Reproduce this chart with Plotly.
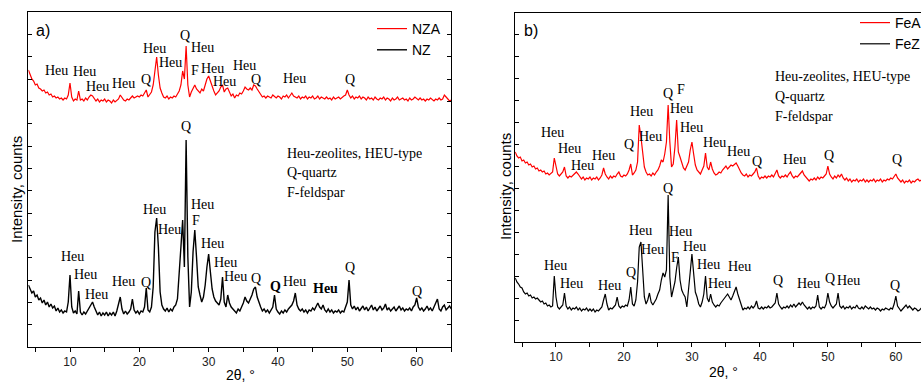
import plotly.graph_objects as go

# ---------------- data (2θ scan from 4° to 65°, step 0.25°) ----------------
TWO_THETA_START = 4.0
TWO_THETA_STEP = 0.25

NZA = [
    277, 272, 268, 266, 262, 263, 259, 258,
    256, 257, 254, 255, 252, 253, 250, 251,
    249, 250, 248, 249, 247, 249, 248, 252,
    264, 250, 246, 248, 247, 256, 247, 248,
    246, 249, 247, 250, 252, 251, 248, 246,
    248, 245, 247, 246, 248, 245, 247, 246,
    244, 247, 245, 247, 248, 252, 249, 247,
    246, 248, 247, 249, 251, 249, 250, 251,
    250, 252, 251, 254, 257, 250, 252, 255,
    262, 278, 290, 272, 259, 254, 250, 249,
    251, 248, 250, 249, 251, 250, 253, 256,
    262, 276, 268, 301, 262, 250, 255, 258,
    262, 258, 256, 254, 258, 256, 262, 268,
    271, 266, 259, 256, 252, 254, 256, 260,
    262, 255, 258, 259, 254, 251, 253, 249,
    252, 251, 254, 253, 256, 260, 258, 257,
    259, 257, 262, 261, 258, 255, 252, 250,
    251, 249, 251, 250, 249, 252, 250, 249,
    251, 250, 248, 251, 250, 252, 249, 252,
    254, 251, 250, 249, 251, 248, 250, 249,
    251, 248, 250, 249, 251, 248, 249, 251,
    248, 250, 249, 248, 250, 248, 249, 247,
    250, 248, 249, 250, 248, 250, 251, 252,
    257, 252, 249, 251, 248, 250, 249, 251,
    248, 250, 249, 247, 250, 248, 249, 247,
    250, 248, 247, 249, 248, 250, 247, 249,
    248, 246, 249, 247, 248, 250, 247, 248,
    249, 247, 248, 246, 249, 247, 248, 250,
    248, 247, 249, 247, 248, 246, 248, 247,
    249, 247, 246, 248, 247, 249, 247, 248,
    252, 250, 248, 246, 247,
]

NZ = [
    62, 58, 54, 56, 50, 52, 47, 49,
    44, 47, 42, 45, 40, 43, 39, 41,
    36, 39, 35, 37, 34, 36, 35, 45,
    72, 40, 34, 36, 33, 56, 35, 32,
    35, 33, 36, 38, 42, 45, 40, 35,
    32, 35, 31, 34, 32, 35, 31, 34,
    32, 35, 31, 36, 42, 50, 38, 33,
    36, 33, 35, 38, 48, 37, 34, 36,
    33, 36, 35, 40, 59, 37, 35, 40,
    60, 115, 129, 100, 55, 42, 38, 36,
    39, 35, 38, 36, 40, 42, 48, 70,
    100, 127, 80, 207, 90, 40, 55, 95,
    117, 90, 60, 52, 45, 50, 62, 80,
    93, 75, 58, 50, 46, 44, 42, 48,
    70, 45, 40, 52, 44, 40, 38, 36,
    34, 38, 36, 40, 44, 50, 46, 44,
    48, 52, 58, 60, 50, 44, 40, 36,
    38, 35, 37, 34, 37, 40, 52, 38,
    35, 33, 36, 34, 37, 35, 38, 40,
    42, 46, 54, 42, 38, 36, 38, 35,
    37, 34, 37, 36, 39, 37, 41, 44,
    40, 38, 42, 37, 35, 38, 35, 37,
    34, 36, 35, 37, 34, 36, 35, 40,
    45, 67, 42, 38, 41, 37, 40, 36,
    39, 41, 37, 40, 36, 39, 42, 37,
    40, 36, 38, 41, 37, 39, 43, 37,
    39, 36, 38, 40, 36, 38, 41, 37,
    39, 36, 38, 37, 39, 36, 40, 42,
    49, 40, 37, 39, 36, 38, 41, 37,
    39, 36, 40, 43, 48, 38, 36, 40,
    42, 37, 39, 41, 38,
]

FEA = [
    190, 186, 184, 185, 181, 182, 179, 180,
    177, 178, 175, 176, 173, 174, 171, 172,
    170, 171, 168, 169, 167, 169, 170, 184,
    176, 168, 166, 168, 170, 175, 166, 164,
    166, 165, 167, 169, 170, 168, 165, 163,
    165, 162, 164, 163, 165, 162, 164, 163,
    165, 162, 164, 167, 174, 168, 165, 163,
    166, 164, 166, 165, 168, 170, 166, 165,
    167, 166, 168, 172, 178, 167, 169, 172,
    180, 217, 205, 190, 175, 170, 167, 168,
    166, 169, 167, 170, 172, 176, 182, 180,
    188, 200, 237, 200, 175, 178, 195, 222,
    190, 185, 178, 174, 172, 176, 180, 192,
    200, 188, 177, 172, 170, 168, 172, 176,
    189, 175, 172, 180, 173, 169, 167, 168,
    170, 169, 172, 174, 176, 173, 175, 177,
    176, 178, 179, 176, 172, 169, 167, 166,
    168, 165, 167, 166, 168, 170, 174, 166,
    163, 165, 164, 166, 164, 166, 165, 167,
    165, 168, 172, 166, 164, 166, 165, 167,
    165, 168, 170, 166, 164, 166, 165, 167,
    169, 171, 167, 165, 163, 161, 163, 162,
    164, 162, 165, 163, 165, 164, 166, 168,
    176, 168, 165, 163, 166, 164, 167, 165,
    168, 164, 162, 164, 161, 163, 160, 162,
    161, 163, 160, 162, 161, 163, 160, 162,
    160, 162, 161, 163, 160, 162, 161, 163,
    160, 162, 161, 163, 162, 164, 163, 166,
    168, 164, 162, 160, 162, 159, 161, 160,
    162, 159, 161, 160, 162, 163, 161, 162,
    160, 162, 161, 160, 161,
]

FEZ = [
    64, 60, 58, 55, 54, 50, 48, 49,
    46, 47, 44, 45, 43, 44, 42, 40,
    41, 38, 39, 36, 37, 35, 36, 66,
    45, 35, 33, 35, 37, 49, 36, 33,
    35, 32, 34, 33, 35, 32, 34, 31,
    33, 32, 34, 31, 33, 31, 33, 30,
    32, 31, 33, 35, 42, 48, 38, 32,
    34, 33, 35, 37, 45, 36, 34, 36,
    35, 37, 36, 42, 55, 38, 36, 42,
    60, 95, 100, 75, 45, 38, 42, 49,
    40, 37, 40, 43, 48, 52, 62, 69,
    65, 72, 147, 65, 45, 52, 60, 74,
    85, 62, 52, 48, 45, 35, 50, 70,
    88, 65, 50, 45, 38, 35, 40, 48,
    66, 44, 40, 48, 40, 37, 35, 37,
    36, 39, 41, 44, 46, 48, 45, 42,
    46, 50, 55, 48, 42, 36, 32, 34,
    33, 35, 33, 36, 34, 36, 41, 34,
    33, 35, 33, 35, 34, 36, 34, 35,
    37, 39, 49, 38, 35, 33, 35, 34,
    36, 34, 37, 35, 38, 35, 37, 39,
    37, 40, 37, 35, 33, 35, 33, 35,
    34, 36, 47, 35, 33, 35, 34, 38,
    49, 40, 36, 34, 36, 38, 49, 36,
    34, 36, 33, 35, 34, 36, 33, 35,
    34, 37, 34, 33, 35, 33, 36, 34,
    33, 35, 33, 34, 32, 34, 33, 31,
    33, 32, 34, 33, 32, 34, 33, 38,
    46, 36, 33, 31, 33, 35, 37, 34,
    36, 34, 32, 34, 33, 31, 32, 34,
    33, 32, 34, 33, 32,
]

X_TICKS = [10, 20, 30, 40, 50, 60]

# peak labels: (text, 2θ, height)
LABELS_A = [
    ("Heu", 8.08, 277), ("Heu", 12.15, 276), ("Heu", 13.95, 261), ("Heu", 17.69, 264),
    ("Q", 20.96, 268), ("Heu", 22.16, 299), ("Heu", 24.53, 285), ("Q", 26.59, 312),
    ("Heu", 29.08, 300), ("F", 28.03, 277), ("Heu", 30.58, 279), ("Heu", 32.26, 266),
    ("Heu", 35.10, 282), ("Q", 36.79, 268), ("Heu", 42.35, 269), ("Q", 50.39, 268),
    ("Q", 26.78, 221), ("Heu", 22.16, 138), ("Heu", 24.42, 118), ("Heu", 29.08, 143),
    ("F", 28.15, 127), ("Heu", 30.53, 104), ("Heu", 32.36, 85), ("Heu", 33.80, 71),
    ("Q", 36.87, 69), ("<b>Q</b>", 39.61, 61), ("Heu", 42.35, 66), ("<b>Heu</b>", 46.90, 59),
    ("Q", 50.39, 80), ("Q", 60.01, 56), ("Heu", 10.33, 91), ("Heu", 12.26, 73),
    ("Heu", 13.85, 53), ("Heu", 17.69, 66), ("Q", 20.96, 65),
]
LABELS_B = [
    ("Heu", 9.56, 210), ("Heu", 11.99, 194), ("Heu", 13.97, 177), ("Heu", 17.06, 187),
    ("Q", 20.74, 198), ("Heu", 23.97, 206), ("Heu", 30.0, 215), ("Heu", 33.28, 200),
    ("Heu", 36.91, 191), ("Q", 39.56, 181), ("Heu", 45.07, 183), ("Q", 50.10, 187),
    ("Q", 60.15, 183), ("Q", 26.47, 249), ("F", 28.35, 253), ("Heu", 22.54, 231),
    ("Heu", 28.49, 234),
    ("Q", 26.47, 154), ("Heu", 22.5, 112), ("Heu", 28.38, 111), ("Heu", 24.22, 93),
    ("F", 27.46, 85), ("Heu", 30.44, 96), ("Heu", 9.96, 77), ("Heu", 12.31, 59),
    ("Heu", 17.84, 57), ("Q", 21.07, 70), ("Heu", 32.40, 78), ("Heu", 34.01, 59),
    ("Heu", 36.96, 76), ("Q", 42.65, 62), ("Heu", 47.21, 59), ("Q", 50.25, 64),
    ("Heu", 53.09, 62), ("Q", 59.88, 57),
]
KEY_LINES = ["Heu-zeolites, HEU-type", "Q-quartz", "F-feldspar"]


def scan(values):
    return [round(TWO_THETA_START + TWO_THETA_STEP * i, 2) for i in range(len(values))]


W, H = 921, 382
SERIF = "Liberation Serif, Times New Roman, serif"
SANS = "Liberation Sans, Arial, sans-serif"

fig = go.Figure()
fig.add_trace(go.Scatter(x=scan(NZA), y=NZA, mode="lines", name="NZA",
                         line=dict(color="#ff0000", width=1.2), xaxis="x", yaxis="y", legend="legend"))
fig.add_trace(go.Scatter(x=scan(NZ), y=NZ, mode="lines", name="NZ",
                         line=dict(color="#000000", width=1.4), xaxis="x", yaxis="y", legend="legend"))
fig.add_trace(go.Scatter(x=scan(FEA), y=FEA, mode="lines", name="FeA",
                         line=dict(color="#ff0000", width=1.2), xaxis="x2", yaxis="y2", legend="legend2"))
fig.add_trace(go.Scatter(x=scan(FEZ), y=FEZ, mode="lines", name="FeZ",
                         line=dict(color="#000000", width=1.2), xaxis="x2", yaxis="y2", legend="legend2"))


def xax(domain, rng, anchor):
    return dict(domain=domain, range=rng, anchor=anchor, showgrid=False, zeroline=False,
                showline=True, linecolor="black", linewidth=1, mirror=True,
                ticks="outside", ticklen=4, tickcolor="black", tickvals=X_TICKS,
                minor=dict(dtick=5, tick0=0, ticks="outside", ticklen=4, tickcolor="black"),
                tickfont=dict(family=SANS, size=12, color="#222"), automargin=False)


def xtop(domain, rng, over, anchor):
    return dict(domain=domain, range=rng, overlaying=over, anchor=anchor, side="top",
                showgrid=False, zeroline=False, showline=False, ticks="inside", ticklen=3,
                tickcolor="black", tick0=0, dtick=5, showticklabels=False, automargin=False)


def yax(domain, rng, anchor, dt, mirror):
    return dict(domain=domain, range=rng, anchor=anchor, showgrid=False, zeroline=False,
                showline=True, linecolor="black", linewidth=1, mirror=mirror,
                ticks="inside", ticklen=4, tickcolor="black", tick0=0, dtick=dt,
                showticklabels=False, automargin=False)


XA_DOM = [28.4 / W, 451.3 / W]
XB_DOM = [515.2 / W, 1.0]

fig.update_layout(
    width=W, height=H, margin=dict(l=0, r=0, t=0, b=0, pad=0, autoexpand=False),
    paper_bgcolor="white", plot_bgcolor="white",
    xaxis=xax(XA_DOM, [4, 65], "y"),
    yaxis=yax([1 - 347 / H, 1 - 12 / H], [0, 335], "x", 335 / 15, "allticks"),
    xaxis2=xax(XB_DOM, [4, 63.7], "y2"),
    yaxis2=yax([1 - 342 / H, 1 - 13 / H], [0, 329], "x2", 329 / 15, False),
    xaxis3=xtop(XA_DOM, [4, 65], "x", "y"),
    xaxis4=xtop(XB_DOM, [4, 63.7], "x2", "y2"),
    legend=dict(x=372 / W, y=1 - 13 / H, xanchor="left", yanchor="top",
                bgcolor="rgba(0,0,0,0)", font=dict(family=SANS, size=14, color="black"),
                itemwidth=30, tracegroupgap=0),
    legend2=dict(x=855 / W, y=1 - 7 / H, xanchor="left", yanchor="top",
                 bgcolor="rgba(0,0,0,0)", font=dict(family=SANS, size=14, color="black"),
                 itemwidth=30, tracegroupgap=0),
    showlegend=True,
)

ann = []
for txt, xv, yv in LABELS_A:
    ann.append(dict(text=txt, x=xv, y=yv, xref="x", yref="y", showarrow=False,
                    font=dict(family=SERIF, size=14, color="black")))
for txt, xv, yv in LABELS_B:
    ann.append(dict(text=txt, x=xv, y=yv, xref="x2", yref="y2", showarrow=False,
                    font=dict(family=SERIF, size=14, color="black")))
for i, line in enumerate(KEY_LINES):
    ann.append(dict(text=line, x=41.0, y=194 - 19.5 * i, xref="x", yref="y", xanchor="left",
                    yanchor="middle", showarrow=False, font=dict(family=SERIF, size=14, color="black")))
    ann.append(dict(text=line, x=41.87, y=266 - 20 * i, xref="x2", yref="y2", xanchor="left",
                    yanchor="middle", showarrow=False, font=dict(family=SERIF, size=14, color="black")))


def paper_text(text, px, py, size, xanchor="center", angle=0):
    return dict(text=text, x=px / W, y=1 - py / H, xref="paper", yref="paper",
                xanchor=xanchor, yanchor="middle", textangle=angle, showarrow=False,
                font=dict(family=SANS, size=size, color="black"))


ann += [
    paper_text("a)", 34, 30, 16, "left"),
    paper_text("b)", 522, 30, 16, "left"),
    paper_text("Intensity, counts", 16, 190, 15, angle=-90),
    paper_text("Intensity, counts", 505, 187, 15, angle=-90),
    paper_text("2θ, °", 240, 375, 14),
    paper_text("2θ, °", 723, 372, 14),
]
fig.update_layout(annotations=ann)

fig.write_html("out.html", config={"displayModeBar": False},
               post_script="document.body.style.margin='0';document.body.style.padding='0';")
